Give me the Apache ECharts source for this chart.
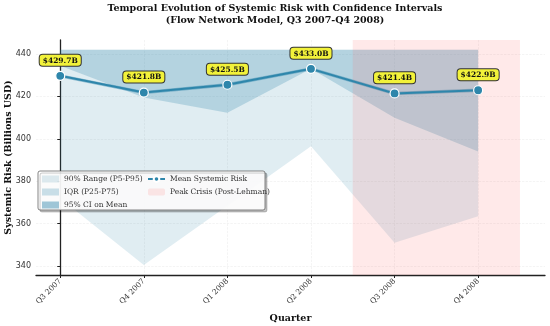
<!DOCTYPE html>
<html>
<head>
<meta charset="utf-8">
<script src="https://cdn.jsdelivr.net/npm/echarts@6/dist/echarts.min.js"></script>
<style>html,body{margin:0;padding:0;background:#fff}#c{width:550px;height:326px}</style>
</head>
<body>
<div id="c"></div>
<script>
const quarters = ['Q3 2007','Q4 2007','Q1 2008','Q2 2008','Q3 2008','Q4 2008'];
const meanRisk = [429.7, 421.8, 425.5, 433.0, 421.4, 422.9];
const p5 = [372.0, 340.5, 368.5, 396.5, 351.0, 363.5];
const p95 = [442.0, 442.0, 442.0, 442.0, 442.0, 442.0];
const p25 = [434.5, 419.5, 412.3, 433.0, 410.0, 394.0];
const p75 = [442.0, 442.0, 442.0, 442.0, 442.0, 442.0];
const ciLow = [428.9, 421.0, 424.7, 432.2, 420.6, 422.1];
const ciHigh = [430.5, 422.6, 426.3, 433.8, 422.2, 423.7];
const crisisSpan = [3.5, 5.5];
const yTicks = [340, 360, 380, 400, 420, 440];
const Y_MIN = 335.8, Y_MAX = 446.6, X_MIN = -0.29, X_MAX = 5.8;

const BLUE = '#2E86AB';
const SERIF = 'DejaVu Serif';

function bandSeries(name, low, high, color, z) {
  return {
    name: name, type: 'custom', z: z, clip: true,
    itemStyle: {color: color},
    data: low.map((v, i) => [i, v, high[i]]),
    encode: {x: 0, y: [1, 2]},
    renderItem: function (params, api) {
      if (params.dataIndex !== 0) return;
      const pts = [];
      for (let i = 0; i < low.length; i++) pts.push(api.coord([i, high[i]]));
      for (let i = low.length - 1; i >= 0; i--) pts.push(api.coord([i, low[i]]));
      return {type: 'polygon', shape: {points: pts}, style: {fill: color, stroke: null}};
    }
  };
}

const chart = echarts.init(document.getElementById('c'), null, {renderer: 'canvas'});
chart.setOption({
  animation: false,
  backgroundColor: '#fff',
  title: {
    text: 'Temporal Evolution of Systemic Risk with Confidence Intervals\n(Flow Network Model, Q3 2007-Q4 2008)',
    left: 'center', top: 3, padding: 0,
    textStyle: {fontFamily: SERIF, fontWeight: 'bold', fontSize: 9.5, lineHeight: 12, color: '#111'}
  },
  grid: {left: 36, right: 5, top: 40, bottom: 51, containLabel: false, outerBoundsMode: 'none'},
  xAxis: {
    type: 'value', min: X_MIN, max: X_MAX,
    name: 'Quarter', nameLocation: 'middle', nameGap: 39, nameMoveOverlap: false,
    nameTextStyle: {fontFamily: SERIF, fontWeight: 'bold', fontSize: 9.5, color: '#111'},
    axisLine: {show: true, onZero: false, lineStyle: {color: '#222', width: 1.3}},
    axisTick: {show: true, length: 3, customValues: [0,1,2,3,4,5], lineStyle: {color: '#222'}},
    axisLabel: {
      customValues: [0,1,2,3,4,5], rotate: 45, fontFamily: SERIF, fontSize: 7.5, color: '#333', margin: 5,
      formatter: v => quarters[Math.round(v)] || ''
    },
    splitLine: {show: true, lineStyle: {color: '#ececec', type: 'dashed', width: 0.6}}
  },
  yAxis: {
    type: 'value', min: Y_MIN, max: Y_MAX,
    name: 'Systemic Risk (Billions USD)', nameLocation: 'middle', nameGap: 22, nameMoveOverlap: false,
    nameTextStyle: {fontFamily: SERIF, fontWeight: 'bold', fontSize: 9.5, color: '#111'},
    axisLine: {show: true, lineStyle: {color: '#222', width: 1.3}},
    axisTick: {show: true, length: 3, customValues: yTicks, lineStyle: {color: '#222'}},
    axisLabel: {customValues: yTicks, fontFamily: 'DejaVu Sans', fontSize: 8, color: '#333', margin: 5},
    splitLine: {show: true, lineStyle: {color: '#ececec', type: 'dashed', width: 0.6}}
  },
  legend: [
    {
      data: ['90% Range (P5-P95)', 'IQR (P25-P75)', '95% CI on Mean'],
      orient: 'vertical', left: 42, top: 175, itemGap: 5, itemWidth: 17, itemHeight: 7, z: 20,
      icon: 'rect', padding: 0,
      textStyle: {fontFamily: SERIF, fontSize: 7.5, color: '#333'}
    },
    {
      data: ['Mean Systemic Risk', 'Peak Crisis (Post-Lehman)'],
      orient: 'vertical', left: 147, top: 175, itemGap: 5, itemWidth: 17, itemHeight: 7, z: 20,
      padding: 0,
      textStyle: {fontFamily: SERIF, fontSize: 7.5, color: '#333'}
    }
  ],
  graphic: [
    {type: 'rect', z: 15, shape: {x: 38, y: 171, width: 227, height: 39, r: 2},
     style: {fill: 'rgba(255,255,255,0.92)', stroke: '#666', lineWidth: 0.8,
             shadowBlur: 0, shadowOffsetX: 2, shadowOffsetY: 2, shadowColor: 'rgba(0,0,0,0.25)'}}
  ],
  series: [
    bandSeries('90% Range (P5-P95)', p5, p95, 'rgba(46,134,171,0.15)', 2),
    bandSeries('IQR (P25-P75)', p25, p75, 'rgba(46,134,171,0.25)', 3),
    bandSeries('95% CI on Mean', ciLow, ciHigh, 'rgba(46,134,171,0.45)', 4),
    {
      name: 'Peak Crisis (Post-Lehman)', type: 'custom', z: 5, clip: true,
      itemStyle: {color: 'rgba(255,107,107,0.15)'},
      data: [[crisisSpan[0], crisisSpan[1]]],
      encode: {x: [0, 1]},
      renderItem: function (params, api) {
        const a = api.coord([api.value(0), Y_MAX]);
        const b = api.coord([api.value(1), Y_MIN]);
        return {type: 'rect', shape: {x: a[0], y: a[1], width: b[0] - a[0], height: b[1] - a[1]},
                style: {fill: 'rgba(255,107,107,0.15)'}};
      }
    },
    {
      name: 'Mean Systemic Risk', type: 'line', z: 8,
      data: meanRisk.map((v, i) => [i, v]),
      symbol: 'circle', symbolSize: 9,
      lineStyle: {color: BLUE, width: 2},
      itemStyle: {color: BLUE, borderColor: '#fff', borderWidth: 1.2},
      label: {
        show: true, position: 'top', distance: 5,
        formatter: p => '$' + p.value[1].toFixed(1) + 'B',
        fontFamily: SERIF, fontWeight: 'bold', fontSize: 7.5, color: '#111',
        backgroundColor: '#F2F23A', borderColor: '#333', borderWidth: 1, borderRadius: 3,
        padding: [2, 3, 1, 3]
      }
    }
  ]
});
</script>
</body>
</html>
